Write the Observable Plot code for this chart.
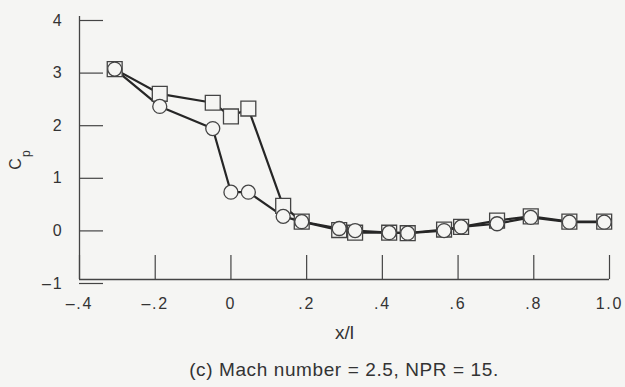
<!DOCTYPE html>
<html><head><meta charset="utf-8">
<script src="https://cdn.jsdelivr.net/npm/d3@7"></script>
<script src="https://cdn.jsdelivr.net/npm/@observablehq/plot@0.6"></script>
<style>
html,body{margin:0;padding:0;background:#f5f5f3;}
#chart{width:625px;}
#chart svg{display:block;}
#chart g[aria-label*="tick label"] text{letter-spacing:1.8px;}
#caption{font-family:"Liberation Sans",Arial,sans-serif;font-size:19px;letter-spacing:0.6px;color:#333;text-align:center;line-height:24px;margin-top:8px;padding-left:63px;width:562px;}
</style></head><body><div id="chart"></div><div id="caption">(c) Mach number = 2.5, NPR = 15.</div>
<script>
// x/l stations (shared by both series)
const xStations = [-0.307, -0.188, -0.048, 0.0, 0.046, 0.138, 0.187, 0.286, 0.328, 0.418, 0.467, 0.563, 0.608, 0.703, 0.792, 0.894, 0.986];
// Cp, square symbols
const cpSquare = [3.0, 2.53, 2.36, 2.10, 2.25, 0.40, 0.10, -0.06, -0.11, -0.11, -0.12, -0.05, 0.0, 0.12, 0.20, 0.10, 0.10];
// Cp, circle symbols
const cpCircle = [3.0, 2.29, 1.87, 0.66, 0.66, 0.20, 0.10, -0.03, -0.07, -0.11, -0.12, -0.07, 0.0, 0.06, 0.18, 0.09, 0.09];

const xTicks = [-0.4, -0.2, 0, 0.2, 0.4, 0.6, 0.8, 1.0];
const xTickLabels = ["\u2013.4", "\u2013.2", "0", ".2", ".4", ".6", ".8", "1.0"];
const yTicks = [-1, 0, 1, 2, 3, 4];
const yTickLabels = ["\u20131", "0", "1", "2", "3", "4"];
const xDomain = [-0.4, 1.0];
const yDomain = [-1, 4];

const squares = xStations.map((x, i) => ({x, y: cpSquare[i]}));
const circles = xStations.map((x, i) => ({x, y: cpCircle[i]}));
const bg = "#f5f5f3";
const ink = "#262626";

const plot = Plot.plot({
  width: 625,
  height: 350,
  marginLeft: 79,
  marginRight: 16,
  marginTop: 16,
  marginBottom: 71,
  style: {background: "transparent", fontFamily: "'Liberation Sans', Arial, sans-serif", fontSize: "15px", color: "#333"},
  x: {domain: xDomain},
  y: {domain: yDomain},
  marks: [
    Plot.axisX({ticks: xTicks, tickFormat: d => xTickLabels[xTicks.indexOf(d)], tickSize: -24, tickPadding: 42, label: null, stroke: "#444", strokeWidth: 1.2, fontSize: 16, fill: "#333"}),
    Plot.axisY({ticks: yTicks, tickFormat: d => yTickLabels[yTicks.indexOf(d)], tickSize: -24, tickPadding: 40, dy: 4, label: null, stroke: "#444", strokeWidth: 1.2, fontSize: 16, fill: "#333"}),
    Plot.ruleX([xDomain[0]], {stroke: "#444", strokeWidth: 1.3}),
    Plot.ruleY([yDomain[0]], {stroke: "#444", strokeWidth: 1.3}),
    Plot.line(squares, {x: "x", y: "y", stroke: ink, strokeWidth: 2.2}),
    Plot.line(circles, {x: "x", y: "y", stroke: ink, strokeWidth: 2.2}),
    Plot.dot(squares, {x: "x", y: "y", symbol: "square", r: 8.4, fill: bg, stroke: "#444", strokeWidth: 1.3}),
    Plot.dot(circles, {x: "x", y: "y", symbol: "circle", r: 7, fill: bg, stroke: "#444", strokeWidth: 1.3})
  ]
});

const svg = d3.select(plot);
svg.append("text")
  .attr("x", 344.5).attr("y", 339)
  .attr("text-anchor", "middle")
  .attr("font-size", 19).attr("fill", "#333")
  .text("x/l");
const yl = svg.append("text")
  .attr("transform", "translate(21,160) rotate(-90)")
  .attr("font-size", 16).attr("fill", "#333");
yl.append("tspan").text("C");
yl.append("tspan").attr("dy", 9).attr("dx", 1).attr("font-size", 12).text("p");

document.getElementById("chart").appendChild(plot);
</script></body></html>
